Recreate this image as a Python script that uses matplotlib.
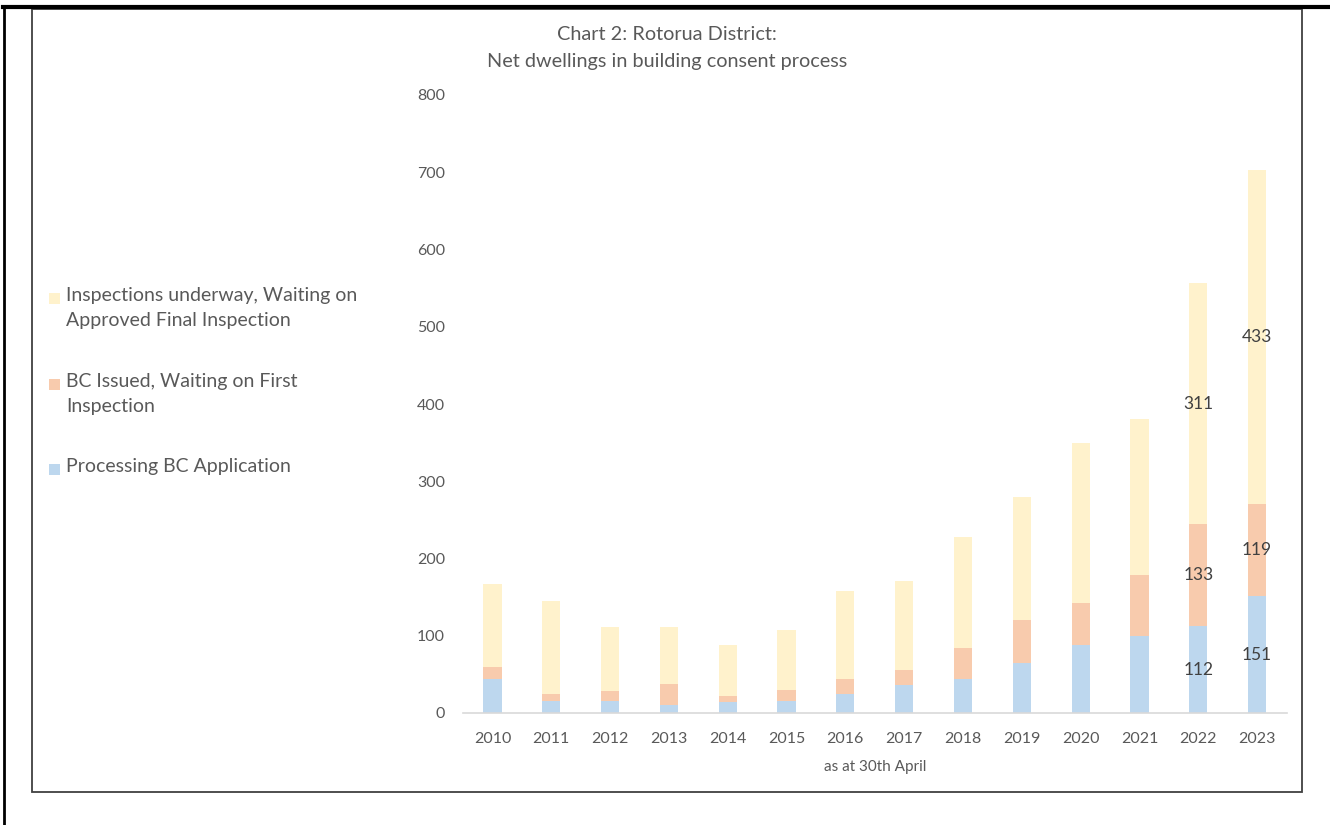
import matplotlib.pyplot as plt
from matplotlib.patches import Rectangle
from matplotlib.lines import Line2D
import numpy as np

plt.rcParams['font.family'] = ['Lato', 'DejaVu Sans']

# data (as at 30th April)
years = ['2010', '2011', '2012', '2013', '2014', '2015', '2016',
         '2017', '2018', '2019', '2020', '2021', '2022', '2023']
processing = [44, 16, 16, 11, 14, 15, 24, 36, 44, 65, 88, 100, 112, 151]
bc_issued = [15, 9, 13, 26, 8, 15, 20, 20, 40, 56, 54, 78, 133, 119]
inspections = [108, 120, 82, 74, 66, 77, 114, 115, 144, 159, 208, 203, 311, 433]

series_names = ['Processing BC Application',
                'BC Issued, Waiting on First\nInspection',
                'Inspections underway, Waiting on\nApproved Final Inspection']
colors = ['#BDD7EE', '#F8CBAD', '#FFF2CC']
labelled_years = ['2022', '2023']

grey = '#595959'

fig = plt.figure(figsize=(13.3, 8.25), dpi=100)
ax = fig.add_axes([463 / 1330, 1 - 713 / 825, (1286.5 - 463) / 1330, (713 - 95) / 825])

x = np.arange(len(years))
bottom = np.zeros(len(years))
for vals, col in zip([processing, bc_issued, inspections], colors):
    vals = np.array(vals)
    ax.bar(x, vals, width=0.31, bottom=bottom, color=col, edgecolor='none')
    # data labels only on the last two years
    for i, yr in enumerate(years):
        if yr in labelled_years:
            ax.text(x[i], bottom[i] + vals[i] / 2, str(vals[i]), ha='center', va='center',
                    fontsize=12.5, color='#404040')
    bottom += vals

ax.set_xlim(-0.5, len(years) - 0.5)
ax.set_ylim(0, 800)
ax.set_yticks(range(0, 801, 100))
ax.set_xticks(x)
ax.set_xticklabels(years)
ax.tick_params(axis='both', length=0, labelsize=11.5, colors=grey)
ax.tick_params(axis='y', pad=13)
ax.tick_params(axis='x', pad=14)
for s in ['top', 'right', 'left']:
    ax.spines[s].set_visible(False)
ax.spines['bottom'].set_color('#D9D9D9')
ax.spines['bottom'].set_linewidth(1.2)
ax.set_xlabel('as at 30th April', fontsize=11, color=grey, labelpad=10)

# title
fig.text(0.5015, 1 - 35 / 825, 'Chart 2: Rotorua District:', ha='center', va='center',
         fontsize=14.3, color=grey)
fig.text(0.5015, 1 - 61 / 825, 'Net dwellings in building consent process', ha='center',
         va='center', fontsize=14.3, color=grey)

# legend drawn by hand, top entry first
legend_y = [298, 384, 469]
for name, col, ly in zip(series_names[::-1], colors[::-1], legend_y):
    fig.patches.append(Rectangle((49 / 1330, 1 - (ly + 6) / 825), 11 / 1330, 11 / 825,
                                 transform=fig.transFigure, facecolor=col, edgecolor='none'))
    fig.text(66 / 1330, 1 - (ly - 11) / 825, name, ha='left', va='top', fontsize=14,
             color=grey, linespacing=1.6)

# frames around the picture
fig.add_artist(Rectangle((32 / 1330, 1 - 792 / 825), (1302 - 32) / 1330, (792 - 9) / 825,
                         transform=fig.transFigure, fill=False, edgecolor='#404040', lw=1.3))
fig.add_artist(Line2D([3 / 1330, 1], [1 - 7 / 825, 1 - 7 / 825], transform=fig.transFigure,
                      color='black', lw=3))
fig.add_artist(Line2D([4 / 1330, 4 / 1330], [0, 1 - 7 / 825], transform=fig.transFigure,
                      color='black', lw=2))

fig.savefig('out.png', dpi=100)
